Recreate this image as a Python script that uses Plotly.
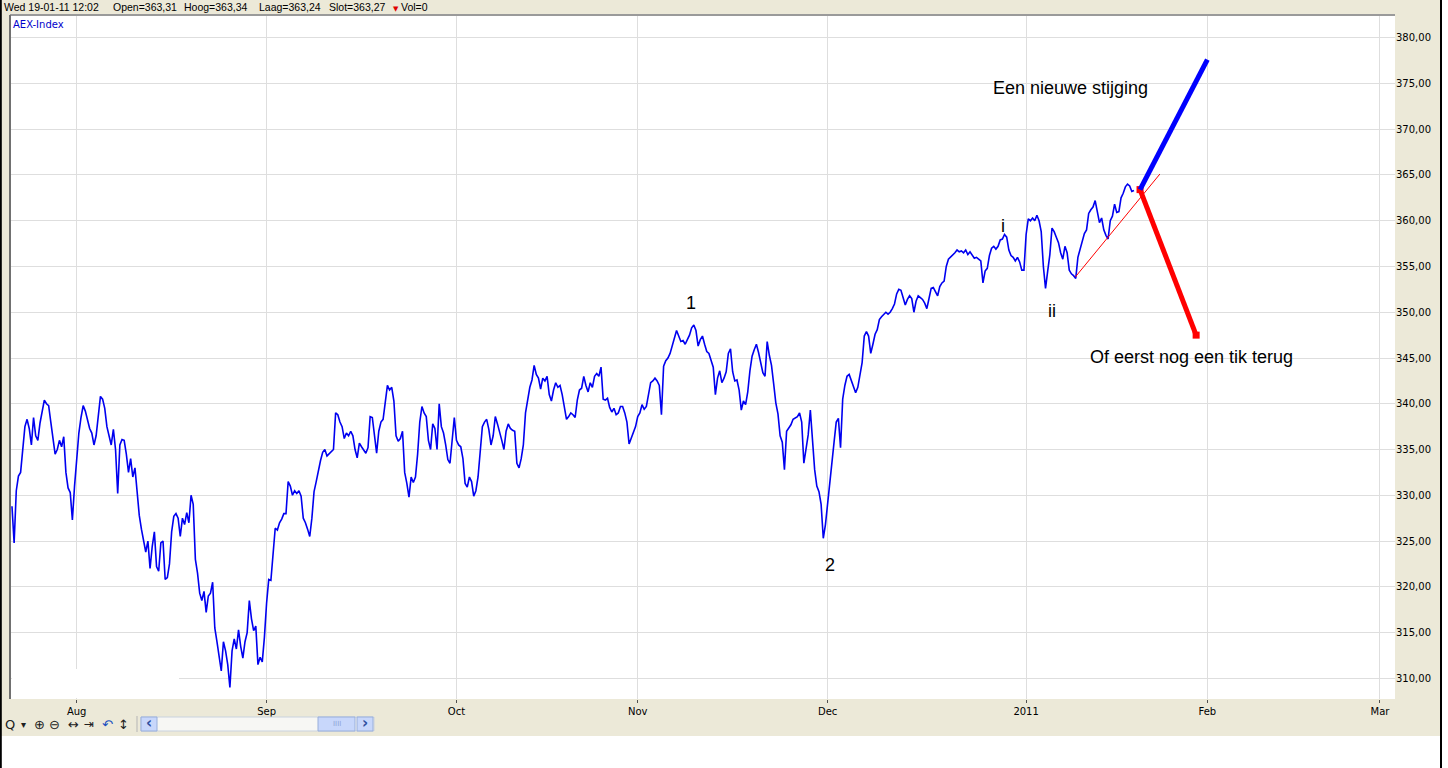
import plotly.graph_objects as go

# ---------------- data ----------------
# AEX index (intraday), sampled every quarter trading day; x = trading days since 2 Aug 2010
start_day = -7.5
step_day = 0.25
aex_values = [
    328.8, 324.8, 330.5, 332.1, 332.5, 335.3, 337.5, 338.3, 337.3, 335.5,
    338.5, 336.5, 336.0, 337.9, 339.3, 340.4, 340.0, 339.8, 338.0, 336.3,
    334.5, 335.0, 336.0, 335.3, 336.4, 332.5, 330.8, 330.3, 327.3, 331.0,
    334.5, 336.8, 338.5, 339.8, 339.2, 338.3, 337.3, 336.8, 335.5, 336.5,
    338.5, 340.8, 340.5, 339.5, 337.5, 336.3, 335.5, 337.2, 335.0, 330.2,
    335.5, 336.1, 336.0, 334.5, 332.5, 334.0, 332.0, 333.0, 330.3, 327.8,
    326.3, 325.2, 323.8, 325.0, 322.0, 324.4, 326.0, 322.2, 321.7, 324.8,
    325.0, 320.8, 321.0, 322.5, 326.0, 327.7, 328.0, 327.5, 325.5, 327.5,
    326.8, 328.1, 327.0, 330.0, 329.0, 323.0, 321.5, 319.3, 318.5, 319.5,
    317.2, 319.0, 319.3, 320.5, 315.5, 314.0, 312.5, 310.8, 314.0, 313.0,
    311.5, 309.0, 313.0, 314.3, 313.2, 315.3, 313.5, 312.2, 314.0, 315.0,
    318.5, 316.5, 315.2, 315.7, 311.5, 312.3, 311.8, 314.5, 318.2, 320.8,
    320.7, 323.5, 326.4, 326.2, 327.0, 327.4, 328.0, 328.0, 331.5, 331.0,
    330.0, 330.5, 330.2, 330.5, 329.9, 327.5, 327.0, 326.3, 325.5, 327.5,
    330.4, 331.5, 332.8, 333.8, 334.7, 335.0, 334.3, 334.5, 334.8, 335.0,
    339.0, 338.8, 338.0, 337.5, 336.2, 336.8, 336.5, 337.0, 336.5, 335.0,
    334.1, 335.7, 335.3, 335.0, 334.6, 335.2, 338.6, 338.5, 336.5, 334.6,
    337.0, 338.0, 338.3, 340.0, 342.0, 341.5, 341.8, 340.3, 336.5, 335.9,
    336.2, 337.0, 332.5, 331.3, 329.8, 332.0, 331.4, 332.0, 334.5, 338.0,
    339.7, 339.0, 338.6, 336.0, 335.0, 337.8, 337.3, 335.0, 340.0, 337.5,
    336.8, 335.5, 333.9, 333.5, 336.5, 338.5, 336.0, 335.5, 335.3, 334.0,
    331.3, 330.9, 332.0, 331.5, 329.9, 330.5, 332.0, 335.0, 337.5, 338.0,
    338.3, 337.2, 335.5, 336.5, 338.6, 337.8, 337.0, 336.0, 335.0, 337.0,
    337.8, 337.3, 337.1, 337.0, 333.5, 333.0, 334.0, 335.5, 339.0, 340.5,
    341.8, 342.6, 344.2, 343.2, 342.8, 341.6, 342.8, 342.5, 343.0, 341.0,
    340.3, 341.5, 342.3, 341.8, 342.0, 341.0, 339.8, 338.3, 338.6, 339.0,
    338.8, 338.5, 340.4, 341.5, 341.7, 343.0, 342.0, 341.3, 342.3, 341.8,
    343.0, 343.3, 343.0, 344.0, 340.5, 340.4, 340.6, 339.6, 339.1, 339.5,
    338.8, 339.0, 339.7, 339.7, 339.0, 338.0, 335.6, 336.2, 337.0, 337.5,
    338.6, 339.0, 339.9, 339.4, 339.7, 341.0, 342.3, 342.5, 342.8, 342.5,
    342.0, 338.8, 344.1, 344.7, 345.0, 345.5, 346.3, 347.0, 348.0, 347.4,
    346.8, 346.9, 346.5, 347.0, 347.5, 348.3, 348.6, 348.0, 346.3, 347.0,
    347.4, 346.5, 345.7, 345.5, 344.8, 344.0, 341.0, 342.8, 343.6, 342.3,
    342.8, 343.5, 345.5, 346.0, 343.5, 342.5, 342.6, 341.5, 339.3, 340.3,
    339.9, 341.3, 343.6, 345.2, 345.9, 346.5, 345.6, 344.4, 343.4, 343.0,
    346.8, 345.3, 344.2, 342.2, 340.1, 338.9, 336.5, 335.8, 332.8, 337.0,
    337.3, 337.7, 338.3, 338.5, 338.6, 339.0, 338.0, 333.5, 335.0, 336.6,
    339.3, 335.7, 332.8, 331.0, 330.4, 329.0, 325.3, 326.8, 329.2, 331.0,
    334.2, 335.8, 338.0, 338.4, 335.2, 340.5, 342.0, 343.0, 343.2, 342.5,
    342.0, 341.2, 341.8, 343.0, 344.5, 347.4, 347.9, 347.4, 345.5, 346.5,
    347.6, 348.1, 349.2, 349.5, 349.7, 350.0, 349.8, 350.0, 350.4, 350.9,
    352.0, 352.5, 352.4, 351.6, 350.8, 351.4, 351.8, 351.5, 350.0, 351.2,
    351.8, 351.6, 351.4, 351.0, 350.4, 351.5, 352.6, 352.7, 352.3, 351.8,
    352.8, 353.2, 353.4, 355.0, 355.8, 356.0, 356.2, 356.5, 356.8, 356.6,
    356.7, 356.5, 356.8, 356.3, 356.6, 356.2, 355.9, 356.0, 355.8, 355.6,
    353.2, 354.5, 354.8, 356.2, 357.0, 357.2, 356.9, 357.2, 357.9, 358.0,
    358.5, 358.2, 356.8, 356.2, 356.0, 355.6, 356.0, 355.5, 354.6, 354.6,
    358.5, 360.2, 360.0, 360.3, 360.0, 360.6, 360.0, 358.8, 355.0, 352.6,
    354.5, 356.3, 359.2, 358.8, 358.2, 357.6, 356.5, 355.8, 357.2, 356.5,
    354.6, 354.2, 354.0, 353.7, 356.0, 356.8, 357.8, 358.6, 359.0, 360.8,
    361.2, 361.5, 362.2, 360.8, 359.8, 360.3, 359.0, 358.4, 358.0, 360.0,
    360.5, 361.8, 360.9, 361.0, 362.5, 363.0, 363.7, 364.0, 363.8, 363.2,
    363.3,
]
aex_days = [start_day + step_day * i for i in range(len(aex_values))]

month_ticks = [0, 22, 44, 65, 87, 110, 131, 151]
month_labels = ["Aug", "Sep", "Oct", "Nov", "Dec", "2011", "Feb", "Mar"]
price_ticks = [310, 315, 320, 325, 330, 335, 340, 345, 350, 355, 360, 365, 370, 375, 380]

trend_x = [115.7, 125.5]
trend_y = [353.85, 365.1]
up_x = [123.2, 131.0]
up_y = [363.4, 377.6]
down_x = [123.2, 129.7]
down_y = [363.4, 347.5]

header_items = [
    ("Wed 19-01-11 12:02", 2),
    ("Open=363,31", 111),
    ("Hoog=363,34", 182),
    ("Laag=363,24", 257),
    ("Slot=363,27", 327),
    ("Vol=0", 399),
]

# ---------------- layout geometry (pixels) ----------------
W, H = 1448, 768
PL, PR, PT, PB = 10, 1395, 15, 699
BEIGE = "#ECE9D8"
FONT = "DejaVu Sans"


def fx(px):
    return (px - PL) / (PR - PL)


def fy(py):
    return (PB - py) / (PB - PT)


fig = go.Figure()

fig.add_trace(go.Scatter(x=aex_days, y=aex_values, mode="lines",
                         line=dict(color="#0000F0", width=1.6), hoverinfo="skip"))
fig.add_trace(go.Scatter(x=trend_x, y=trend_y, mode="lines",
                         line=dict(color="#FF0000", width=1), hoverinfo="skip"))
fig.add_trace(go.Scatter(x=down_x, y=down_y, mode="lines+markers",
                         line=dict(color="#FF0000", width=5),
                         marker=dict(symbol="square", size=7, color="#FF0000"),
                         hoverinfo="skip"))
fig.add_trace(go.Scatter(x=up_x, y=up_y, mode="lines",
                         line=dict(color="#0000FF", width=5), hoverinfo="skip"))

shapes = []
# white strips outside the window frame
shapes.append(dict(type="rect", xref="paper", yref="paper", x0=fx(-5), x1=fx(W + 5),
                   y0=fy(736), y1=fy(H + 5), fillcolor="white", line_width=0, layer="above"))
shapes.append(dict(type="rect", xref="paper", yref="paper", x0=fx(1442), x1=fx(W + 5),
                   y0=fy(-5), y1=fy(H + 5), fillcolor="white", line_width=0, layer="above"))
# window frame black lines
shapes.append(dict(type="line", xref="paper", yref="paper", x0=fx(0.8), x1=fx(0.8),
                   y0=fy(0), y1=fy(H), line=dict(color="black", width=2), layer="above"))
shapes.append(dict(type="line", xref="paper", yref="paper", x0=fx(1441), x1=fx(1441),
                   y0=fy(0), y1=fy(H), line=dict(color="black", width=2), layer="above"))
# plot borders
shapes.append(dict(type="line", xref="paper", yref="paper", x0=fx(PL), x1=fx(PR),
                   y0=fy(PT), y1=fy(PT), line=dict(color="#9a9a9a", width=2), layer="above"))
shapes.append(dict(type="line", xref="paper", yref="paper", x0=fx(PL), x1=fx(PL),
                   y0=fy(PT), y1=fy(PB), line=dict(color="#707070", width=2), layer="above"))
# white patch bottom-left of plot
shapes.append(dict(type="rect", xref="paper", yref="paper", x0=fx(12), x1=fx(179),
                   y0=fy(698), y1=fy(669), fillcolor="white", line_width=0, layer="above"))
# toolbar scrollbar
shapes.append(dict(type="line", xref="paper", yref="paper", x0=fx(137), x1=fx(137),
                   y0=fy(716), y1=fy(732), line=dict(color="#b5b5b5", width=1), layer="above"))
shapes.append(dict(type="rect", xref="paper", yref="paper", x0=fx(141), x1=fx(374),
                   y0=fy(731), y1=fy(717), fillcolor="#F7F7F4",
                   line=dict(color="#C9D2DE", width=1), layer="above"))
for bx0, bx1 in [(141, 157), (318, 355), (357, 373)]:
    shapes.append(dict(type="rect", xref="paper", yref="paper", x0=fx(bx0), x1=fx(bx1),
                       y0=fy(731), y1=fy(717), fillcolor="#C8D7FB",
                       line=dict(color="#98AEDA", width=1), layer="above"))

annotations = []
for txt, x0 in header_items:
    annotations.append(dict(text=txt, xref="paper", yref="paper", x=fx(x0), y=fy(7.5),
                            xanchor="left", yanchor="middle", showarrow=False,
                            font=dict(family="Liberation Sans", size=10.5, color="black")))
annotations.append(dict(text="▼", xref="paper", yref="paper", x=fx(396), y=fy(9),
                        xanchor="center", yanchor="middle", showarrow=False,
                        font=dict(family=FONT, size=7, color="#E00000")))
annotations.append(dict(text="AEX-Index", xref="paper", yref="paper", x=fx(11), y=fy(24),
                        xanchor="left", yanchor="middle", showarrow=False,
                        font=dict(family=FONT, size=10, color="#0000CC")))

wave_labels = [("1", 71.2, 351.0), ("2", 87.3, 322.4), ("i", 107.3, 359.4), ("ii", 113.0, 350.1),
               ("Een nieuwe stijging", 115.1, 374.5), ("Of eerst nog een tik terug", 129.2, 345.1)]
for txt, xd, yv in wave_labels:
    annotations.append(dict(text=txt, x=xd, y=yv, xref="x", yref="y", showarrow=False,
                            xanchor="center", yanchor="middle",
                            font=dict(family="Liberation Sans", size=18, color="black")))

toolbar_icons = [("Q", 10, "#202020", 13), ("▾", 23.5, "#202020", 10), ("⊕", 39, "#202020", 13),
                 ("⊖", 55, "#202020", 13), ("↔", 73, "#202020", 13), ("⇥", 89, "#202020", 12),
                 ("↶", 107, "#2050C0", 13), ("↕", 123.5, "#202020", 13)]
for txt, xc, col, sz in toolbar_icons:
    annotations.append(dict(text=txt, xref="paper", yref="paper", x=fx(xc), y=fy(724),
                            xanchor="center", yanchor="middle", showarrow=False,
                            font=dict(family=FONT, size=sz, color=col)))
for txt, xc in [("‹", 149), ("›", 365)]:
    annotations.append(dict(text="<b>" + txt + "</b>", xref="paper", yref="paper", x=fx(xc), y=fy(723.5),
                            xanchor="center", yanchor="middle", showarrow=False,
                            font=dict(family=FONT, size=15, color="#2F4FA0")))
annotations.append(dict(text="IIII", xref="paper", yref="paper", x=fx(336.5), y=fy(724),
                        xanchor="center", yanchor="middle", showarrow=False,
                        font=dict(family=FONT, size=7, color="#8EA4D6")))

fig.update_layout(
    width=W, height=H,
    margin=dict(l=PL, r=W - PR, t=PT, b=H - PB, pad=0),
    paper_bgcolor=BEIGE, plot_bgcolor="white",
    showlegend=False,
    separators=", ",
    shapes=shapes,
    annotations=annotations,
    xaxis=dict(range=[(PL - 76.7) / 8.631, (PR - 76.7) / 8.631],
               tickmode="array", tickvals=month_ticks, ticktext=month_labels,
               showgrid=True, gridcolor="#DEDEDE", gridwidth=1,
               ticks="outside", ticklen=3, tickcolor="#505050", tickwidth=1,
               tickfont=dict(family=FONT, size=10, color="black"),
               zeroline=False, showline=False, automargin=False, fixedrange=True),
    yaxis=dict(range=[307.74, 382.48], side="right",
               tickmode="array", tickvals=price_ticks, tickformat=".2f",
               showgrid=True, gridcolor="#DEDEDE", gridwidth=1,
               ticks="", tickfont=dict(family=FONT, size=10, color="black"),
               zeroline=False, showline=False, automargin=False, fixedrange=True),
)

fig.write_html("out.html", config={"displayModeBar": False},
               post_script="document.body.style.margin='0';document.body.style.overflow='hidden';")
